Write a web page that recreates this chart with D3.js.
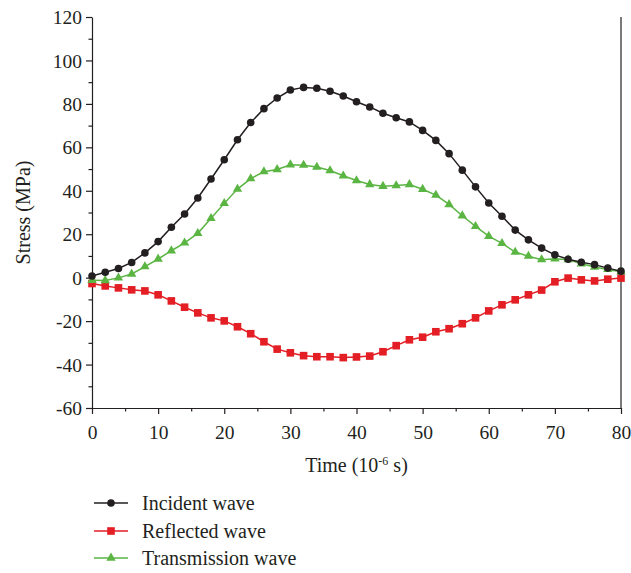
<!DOCTYPE html>
<html>
<head>
<meta charset="utf-8">
<script src="https://cdn.jsdelivr.net/npm/d3@7"></script>
<style>
  body { margin: 0; background: #fff; }
  svg { font-family: "Liberation Serif", "DejaVu Serif", serif; }
</style>
</head>
<body>
<svg id="chart" width="631" height="573"></svg>
<script>
// Time (10^-6 s), one sample every 2 units
var time = [0, 2, 4, 6, 8, 10, 12, 14, 16, 18, 20, 22, 24, 26, 28, 30, 32, 34, 36, 38, 40,
            42, 44, 46, 48, 50, 52, 54, 56, 58, 60, 62, 64, 66, 68, 70, 72, 74, 76, 78, 80];

var incident = [0.8, 2.5, 4.2, 7.0, 11.4, 16.6, 23.2, 29.3, 36.7, 45.4, 54.3, 63.5, 71.4, 77.8, 82.7, 86.4, 87.6, 87.2, 85.8, 83.6, 81.0,
                78.6, 75.7, 73.6, 71.7, 67.8, 63.2, 57.1, 49.5, 41.8, 34.4, 28.3, 21.9, 17.4, 13.6, 10.5, 8.5, 7.1, 6.0, 4.4, 3.0];

var reflected = [-2.7, -3.8, -4.7, -5.6, -6.1, -7.9, -10.7, -13.6, -16.2, -18.5, -19.9, -22.6, -25.8, -29.5, -32.9, -34.6, -35.9, -36.4, -36.4, -36.8, -36.5,
                 -36.1, -34.1, -31.3, -28.6, -27.4, -24.9, -23.5, -21.2, -18.5, -15.3, -12.5, -10.2, -7.9, -5.7, -1.9, -0.2, -1.0, -1.5, -0.7, -0.2];

var transmission = [-1.2, -1.3, -0.1, 1.7, 5.1, 8.6, 12.4, 16.0, 20.4, 27.3, 34.2, 40.8, 45.6, 48.8, 49.8, 52.0, 51.8, 50.9, 49.3, 46.9, 44.7,
                    42.9, 42.1, 42.4, 42.9, 40.7, 38.0, 33.7, 28.5, 23.6, 19.1, 15.8, 11.8, 9.9, 8.3, 8.7, 8.3, 6.4, 4.9, 3.8, 2.7];

var seriesNames = ["Incident wave", "Reflected wave", "Transmission wave"];
var seriesValues = [incident, reflected, transmission];
var seriesColors = ["#231f20", "#e31e24", "#5ab543"];
var seriesMarkers = ["circle", "square", "triangle"];

var xTicks = [0, 10, 20, 30, 40, 50, 60, 70, 80];
var yTicks = [-60, -40, -20, 0, 20, 40, 60, 80, 100, 120];

var svg = d3.select("#chart");
var margin = {top: 17, right: 10, bottom: 165, left: 92};
var width = 621 - margin.left;
var height = 408 - margin.top;

var x = d3.scaleLinear().domain([0, 80]).range([margin.left, margin.left + width]);
var y = d3.scaleLinear().domain([-60, 120]).range([margin.top + height, margin.top]);

var axisColor = "#231f20";
var tickFont = 19.5;
var fontSize = 20;

// minor ticks
svg.append("g")
  .attr("transform", "translate(0," + (margin.top + height) + ")")
  .call(d3.axisBottom(x).tickValues(d3.range(5, 80, 10)).tickSize(3.5).tickFormat(""))
  .call(g => g.select(".domain").remove());
svg.append("g")
  .attr("transform", "translate(" + margin.left + ",0)")
  .call(d3.axisLeft(y).tickValues(d3.range(-50, 120, 20)).tickSize(3.5).tickFormat(""))
  .call(g => g.select(".domain").remove());

// major axes (plain hyphen for negatives, as in the original)
var fmt = function(d) { return String(d); };
var xAxis = svg.append("g")
  .attr("transform", "translate(0," + (margin.top + height) + ")")
  .call(d3.axisBottom(x).tickValues(xTicks).tickFormat(fmt).tickSize(6).tickSizeOuter(0).tickPadding(11));
var yAxis = svg.append("g")
  .attr("transform", "translate(" + margin.left + ",0)")
  .call(d3.axisLeft(y).tickValues(yTicks).tickFormat(fmt).tickSize(6).tickSizeOuter(0).tickPadding(4));

[xAxis, yAxis].forEach(function(g) {
  g.selectAll("text").style("font-family", "Liberation Serif").style("font-size", tickFont + "px").attr("fill", axisColor);
});
yAxis.selectAll("text").attr("dy", "0.34em");
svg.selectAll(".tick line, .domain").attr("stroke", axisColor).attr("stroke-width", 1.2);

// right frame line
svg.append("line")
  .attr("x1", x(80)).attr("x2", x(80))
  .attr("y1", y(120)).attr("y2", y(-60))
  .attr("stroke", axisColor).attr("stroke-width", 1.2);

// axis titles
var xTitle = svg.append("text")
  .attr("x", x(40)).attr("y", 472)
  .attr("text-anchor", "middle")
  .attr("font-size", fontSize).attr("fill", axisColor);
xTitle.append("tspan").text("Time (10");
xTitle.append("tspan").attr("dy", -7).attr("font-size", 12).text("-6");
xTitle.append("tspan").attr("dy", 7).text(" s)");

svg.append("text")
  .attr("transform", "translate(30," + y(30) + ") rotate(-90)")
  .attr("text-anchor", "middle")
  .attr("font-size", fontSize).attr("fill", axisColor)
  .text("Stress (MPa)");

function drawMarker(g, type, cx, cy, color) {
  if (type === "circle") {
    g.append("circle").attr("cx", cx).attr("cy", cy).attr("r", 3.8).attr("fill", color);
  } else if (type === "square") {
    g.append("rect").attr("x", cx - 3.8).attr("y", cy - 3.8).attr("width", 7.6).attr("height", 7.6).attr("fill", color);
  } else {
    g.append("path")
      .attr("d", d3.symbol().type(d3.symbolTriangle).size(38)())
      .attr("transform", "translate(" + cx + "," + cy + ")")
      .attr("fill", color);
  }
}

var line = d3.line()
  .x(function(d, i) { return x(time[i]); })
  .y(function(d) { return y(d); });

// draw series: reflected, transmission, then incident on top
[1, 2, 0].forEach(function(k) {
  var g = svg.append("g");
  g.append("path")
    .attr("d", line(seriesValues[k]))
    .attr("fill", "none")
    .attr("stroke", seriesColors[k])
    .attr("stroke-width", 1.5);
  seriesValues[k].forEach(function(v, i) {
    drawMarker(g, seriesMarkers[k], x(time[i]), y(v), seriesColors[k]);
  });
});

// legend
var legendY = [503, 531, 558];
seriesNames.forEach(function(name, k) {
  var g = svg.append("g");
  g.append("line")
    .attr("x1", 94).attr("x2", 128)
    .attr("y1", legendY[k]).attr("y2", legendY[k])
    .attr("stroke", seriesColors[k]).attr("stroke-width", 1.5);
  drawMarker(g, seriesMarkers[k], 111, legendY[k], seriesColors[k]);
  g.append("text")
    .attr("x", 142).attr("y", legendY[k])
    .attr("dy", "0.34em")
    .attr("font-size", fontSize).attr("fill", axisColor)
    .text(name);
});
</script>
</body>
</html>
